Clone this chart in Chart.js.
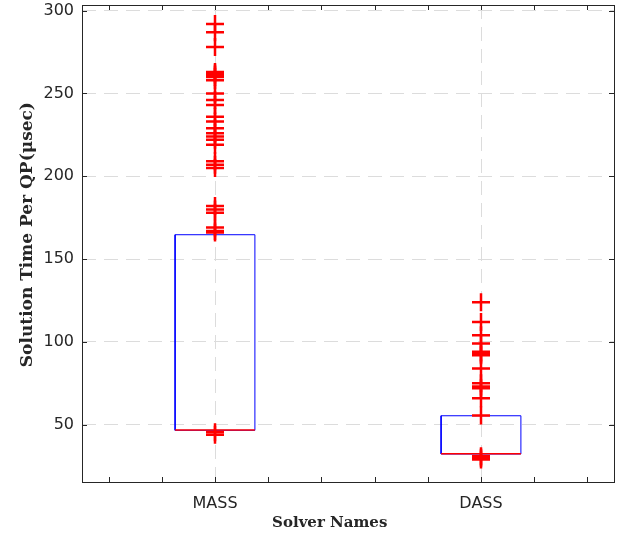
<!DOCTYPE html>
<html>
<head>
<meta charset="utf-8">
<script src="https://cdn.jsdelivr.net/npm/chart.js@4.4.0/dist/chart.umd.min.js"></script>
<style>
  html, body { margin: 0; padding: 0; background: #fff; }
  #wrap { width: 620px; height: 535px; }
</style>
</head>
<body>
<div id="wrap"><canvas id="box-chart" width="620" height="535"></canvas></div>
<script>
// data
var solvers = ['MASS', 'DASS'];
var positions = [1, 2];
var q1 = [46.6, 32.3];
var medians = [46.8, 32.5];
var q3 = [164.7, 55.4];
var massOutliers = [292, 287, 278, 263, 262, 261, 260, 258, 250, 246, 243, 236, 233, 229,
    226, 224, 222, 219, 209, 207, 205, 182, 180, 178, 169, 167, 166, 45.5, 44];
var dassOutliers = [124, 112, 104, 99, 94, 93, 92, 84, 75, 73, 72, 66, 55.5, 31, 30, 29];
var yTicks = [50, 100, 150, 200, 250, 300];
var xTicks = [0.6, 0.8, 1.0, 1.2, 1.4, 1.6, 1.8, 2.0, 2.2, 2.4];

var halfWidth = 0.15;
var axisColor = '#262626';
var gridColor = '#dcdcdc';

// box outlines and medians
function boxPath(i) {
    var x = positions[i];
    return [
        { x: x - halfWidth, y: q1[i] },
        { x: x + halfWidth, y: q1[i] },
        { x: x + halfWidth, y: q3[i] },
        { x: x - halfWidth, y: q3[i] },
        { x: x - halfWidth, y: q1[i] }
    ];
}
function medianPath(i) {
    var x = positions[i];
    return [{ x: x - halfWidth, y: medians[i] }, { x: x + halfWidth, y: medians[i] }];
}
function outlierPoints(list, x) {
    return list.map(function (v) { return { x: x, y: v }; });
}

var datasets = [
    {
        data: outlierPoints(massOutliers, positions[0]).concat(outlierPoints(dassOutliers, positions[1])),
        pointStyle: 'cross',
        pointRadius: 9,
        pointBorderWidth: 2.5,
        borderColor: 'rgb(255,0,0)',
        backgroundColor: 'rgb(255,0,0)',
        showLine: false
    }
];
for (var i = 0; i < solvers.length; i++) {
    datasets.push({
        data: medianPath(i),
        borderColor: 'rgb(255,0,0)',
        borderWidth: 1.5,
        pointRadius: 0,
        showLine: true
    });
}
for (var j = 0; j < solvers.length; j++) {
    datasets.push({
        data: boxPath(j),
        borderColor: 'rgb(0,0,255)',
        borderWidth: 1,
        pointRadius: 0,
        showLine: true,
        fill: false
    });
}

// matlab style frame with inward ticks
var framePlugin = {
    id: 'frame',
    afterDraw: function (chart) {
        var ctx = chart.ctx;
        var a = chart.chartArea;
        var xs = chart.scales.x;
        var ys = chart.scales.y;
        ctx.save();
        ctx.strokeStyle = axisColor;
        ctx.lineWidth = 1;
        ctx.beginPath();
        yTicks.forEach(function (v) {
            var py = Math.round(ys.getPixelForValue(v)) + 0.5;
            ctx.moveTo(a.left, py); ctx.lineTo(a.left + 5, py);
            ctx.moveTo(a.right, py); ctx.lineTo(a.right - 5, py);
        });
        xTicks.forEach(function (v) {
            var px = Math.round(xs.getPixelForValue(v)) + 0.5;
            ctx.moveTo(px, a.bottom); ctx.lineTo(px, a.bottom - 5);
            ctx.moveTo(px, a.top); ctx.lineTo(px, a.top + 5);
        });
        ctx.stroke();
        ctx.strokeRect(Math.round(a.left) + 0.5, Math.round(a.top) + 0.5,
            Math.round(a.right - a.left), Math.round(a.bottom - a.top));
        ctx.restore();
    }
};

var canvas = document.getElementById('box-chart');
var boxChart = new Chart(canvas, {
    type: 'scatter',
    data: { datasets: datasets },
    options: {
        responsive: false,
        animation: false,
        layout: { autoPadding: false, padding: { left: 0, right: 6, top: 5, bottom: 0 } },
        plugins: {
            legend: { display: false },
            tooltip: { enabled: false }
        },
        scales: {
            x: {
                type: 'linear',
                min: 0.5,
                max: 2.5,
                afterBuildTicks: function (axis) {
                    axis.ticks = xTicks.map(function (v) { return { value: v }; });
                },
                afterFit: function (axis) {
                    axis.height = 53;
                    axis.paddingLeft = 0;
                    axis.paddingRight = 0;
                },
                ticks: {
                    autoSkip: false,
                    maxRotation: 0,
                    padding: 12,
                    color: axisColor,
                    font: { family: 'DejaVu Sans', size: 16 },
                    callback: function (value) {
                        for (var k = 0; k < positions.length; k++) {
                            if (Math.abs(value - positions[k]) < 1e-6) return solvers[k];
                        }
                        return '';
                    }
                },
                grid: {
                    drawTicks: false,
                    color: function (c) {
                        if (!c.tick) return 'transparent';
                        for (var k = 0; k < positions.length; k++) {
                            if (Math.abs(c.tick.value - positions[k]) < 1e-6) return gridColor;
                        }
                        return 'transparent';
                    }
                },
                border: { display: false, dash: [14, 8] },
                title: {
                    display: true,
                    text: 'Solver Names       ',
                    color: axisColor,
                    font: { family: 'DejaVu Serif', size: 15, weight: 'bold' },
                    padding: { top: 0, bottom: 3 }
                }
            },
            y: {
                min: 15.4,
                max: 303.4,
                afterBuildTicks: function (axis) {
                    axis.ticks = yTicks.map(function (v) { return { value: v }; });
                },
                afterFit: function (axis) {
                    axis.width = 82;
                    axis.paddingTop = 0;
                    axis.paddingBottom = 0;
                },
                ticks: {
                    padding: 8,
                    color: axisColor,
                    font: { family: 'DejaVu Sans', size: 16 }
                },
                grid: { drawTicks: false, color: gridColor },
                border: { display: false, dash: [14, 8] },
                title: {
                    display: true,
                    text: '   Solution Time Per QP(\u03bcsec)',
                    color: axisColor,
                    font: { family: 'DejaVu Serif', size: 17, weight: 'bold' },
                    padding: { top: 17, bottom: 0 }
                }
            }
        }
    },
    plugins: [framePlugin]
});
</script>
</body>
</html>
